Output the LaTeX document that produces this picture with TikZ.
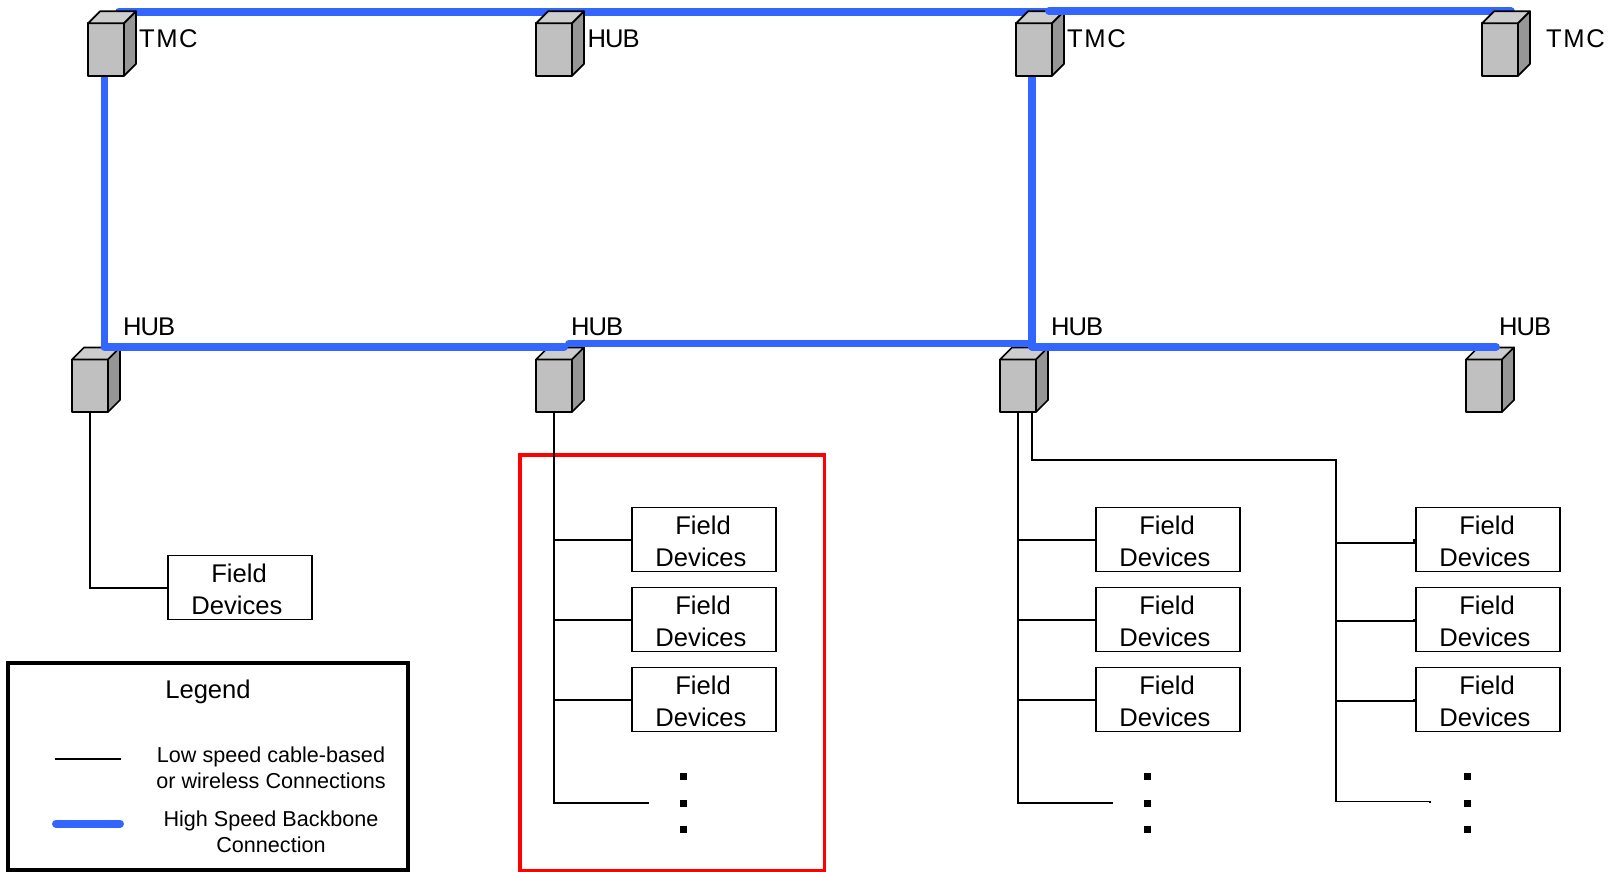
\documentclass[tikz,border=0pt]{standalone}
\usepackage{fontspec}
\setmainfont{Liberation Sans}
\definecolor{bb}{HTML}{3366FF}
\definecolor{cfront}{HTML}{C0C0C0}
\definecolor{ctop}{HTML}{CDCDCD}
\definecolor{cside}{HTML}{969696}
\tikzset{
  cubefront/.style={draw=black,fill=cfront,line width=1.7pt,minimum width=36pt,minimum height=52.5pt,inner sep=0pt,outer sep=0pt,line join=round},
  cubeface/.style={draw=black,line width=1.7pt,line join=round},
  backbone/.style={draw=bb,line width=7.8pt,line cap=round,line join=round},
  cable/.style={draw=black,line width=1.8pt},
  fieldbox/.style={draw=black,fill=white,line width=1.7pt,minimum width=144pt,minimum height=64pt,inner sep=0pt,outer sep=0pt,align=center,font=\fontsize{25.6pt}{32pt}\selectfont},
  lab/.style={inner sep=0pt,anchor=west,font=\fontsize{25.6pt}{30pt}\selectfont},
  legtext/.style={inner sep=0pt,align=center,font=\fontsize{21.6pt}{26pt}\selectfont},
  dotmark/.style={fill=black,draw=none,minimum size=7pt,inner sep=0pt,outer sep=0pt}
}
\newcommand{\mycube}[3]{%
  \node[cubefront] (#1) at (#2+18,#3+26.25) {};
  \draw[cubeface,fill=ctop] (#1.north west) -- ++(12,-12) -- ++(36,0) -- ++(-12,12) -- cycle;
  \draw[cubeface,fill=cside] (#1.north east) -- ++(12,-12) -- ++(0,52.5) -- ++(-12,12) -- cycle;
}
\newcommand{\myfield}[3]{%
  \node[fieldbox] (#1) at (#2,#3) {\rule{0pt}{22.5pt}Field\hspace*{2pt}\\Devices\hspace*{6pt}};
}
\newcommand{\tmctext}{\addfontfeature{LetterSpace=6}TMC}
\newcommand{\hubtext}{\addfontfeature{LetterSpace=-4}HUB}
\begin{document}
\begin{tikzpicture}[x=1pt,y=-1pt]
\useasboundingbox (0,0) rectangle (1608,872);
% backbone ends
\coordinate (ta) at (119,11.7);
\coordinate (tb) at (1049,11.7);
\coordinate (tc) at (1049,11.3);
\coordinate (td) at (1511,11.3);
\coordinate (la) at (104.5,60);
\coordinate (lb) at (104.5,347.3);
\coordinate (ma) at (1032,60);
\coordinate (mb) at (1032,347);
\coordinate (ra) at (564,347.3);
\coordinate (rb) at (569,343.5);
\coordinate (rc) at (1032,343.5);
\coordinate (rd) at (1496,347);
% parts of the backbone that lie behind the top cubes
\draw[backbone] (ta) -- (tb);
\draw[backbone] (la) -- (lb);
\draw[backbone] (ma) -- (mb);
% top cubes
\mycube{tmca}{88}{23.3}
\mycube{huba}{536}{23.3}
\mycube{tmcb}{1016}{23.3}
\draw[backbone] (tc) -- (td);
\mycube{tmcc}{1482}{23.3}
% second-row cubes
\mycube{hubb}{72}{359.5}
\mycube{hubc}{536}{359.5}
\mycube{hubd}{1000}{359.5}
\mycube{hube}{1466}{359.5}
\draw[backbone] (lb) -- (ra);
\draw[backbone] (rb) -- (rc);
\draw[backbone] (mb) -- (rd);
% labels
\node[lab] (l1) at (139,39) {\tmctext};
\node[lab] (l2) at (587.5,39) {\hubtext};
\node[lab] (l3) at (1067,39) {\tmctext};
\node[lab] (l4) at (1546,39) {\tmctext};
\node[lab] (l5) at (123,327) {\hubtext};
\node[lab] (l6) at (571,327) {\hubtext};
\node[lab] (l7) at (1051,327) {\hubtext};
\node[lab] (l8) at (1499,327) {\hubtext};
% red frame
\node[draw=red,line width=3.4pt,minimum width=304.5pt,minimum height=416pt,inner sep=0pt] (redframe) at (672.25,663) {};
% field boxes
\myfield{fs}{240}{587.6}
\myfield{fa}{704}{539.6}
\myfield{fb}{704}{619.6}
\myfield{fc}{704}{699.6}
\myfield{ga}{1168}{539.6}
\myfield{gb}{1168}{619.6}
\myfield{gc}{1168}{699.6}
\myfield{ra1}{1488}{539.6}
\myfield{rb1}{1488}{619.6}
\myfield{rc1}{1488}{699.6}
% cables
\draw[cable] (hubb.south) |- (fs.west);
\coordinate (aend) at (649,803);
\draw[cable] (hubc.south) |- (aend);
\draw[cable] (fa.west) -- (fa.west -| hubc.south);
\draw[cable] (fb.west) -- (fb.west -| hubc.south);
\draw[cable] (fc.west) -- (fc.west -| hubc.south);
\coordinate (gend) at (1113,803);
\draw[cable] (hubd.south) |- (gend);
\draw[cable] (ga.west) -- (ga.west -| hubd.south);
\draw[cable] (gb.west) -- (gb.west -| hubd.south);
\draw[cable] (gc.west) -- (gc.west -| hubd.south);
\coordinate (ha) at (1032,412);
\coordinate (hb) at (1032,460);
\coordinate (hc) at (1336,460);
\coordinate (hd) at (1336,801.5);
\coordinate (he) at (1430,801.5);
\coordinate (hf) at (1430,803);
\draw[cable] (ha) -- (hb) -- (hc) -- (hd) -- (he) -- (hf);
\coordinate (k1) at (1336,543);
\coordinate (k2) at (1336,621.3);
\coordinate (k3) at (1336,701);
\draw[cable] (k1) -- ++(78,0) -- ++(0,-3.4) -- (ra1.west);
\draw[cable] (k2) -- ++(78,0) -- ++(0,-1.7) -- (rb1.west);
\draw[cable] (k3) -- ++(78,0) -- ++(0,-1.4) -- (rc1.west);
% dots
\foreach \n/\px in {a/683.5,b/1147.5,c/1467.5}{
  \node[dotmark] (d\n1) at (\px,776.5) {};
  \node[dotmark] (d\n2) at (\px,803.5) {};
  \node[dotmark] (d\n3) at (\px,829.5) {};
}
% legend
\node[draw=black,line width=3.6pt,minimum width=400pt,minimum height=207pt,inner sep=0pt] (legend) at (208,766.5) {};
\node[inner sep=0pt,font=\fontsize{25.6pt}{30pt}\selectfont] (legt) at (208,692) {Legend};
\coordinate (lga) at (55,759);
\coordinate (lgb) at (121,759);
\draw[cable] (lga) -- (lgb);
\coordinate (lgc) at (56,823.5);
\coordinate (lgd) at (120,823.5);
\draw[draw=bb,line width=8pt,line cap=round] (lgc) -- (lgd);
\node[legtext] (lg1) at (271,768) {Low speed cable-based\\or wireless Connections};
\node[legtext] (lg2) at (271,832) {High Speed Backbone\\Connection};
\end{tikzpicture}
\end{document}
